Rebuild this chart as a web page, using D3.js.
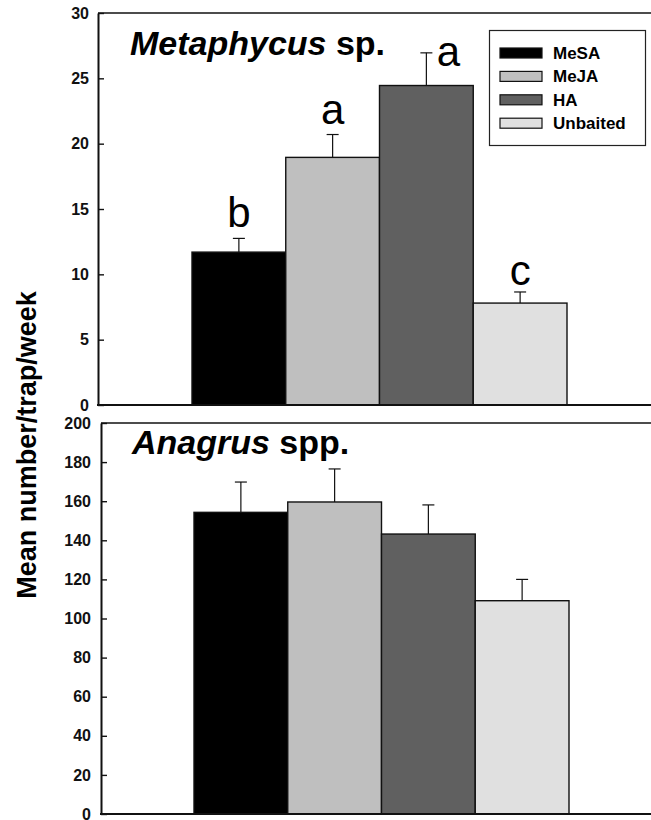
<!DOCTYPE html>
<html>
<head>
<meta charset="utf-8">
<script src="https://cdn.jsdelivr.net/npm/d3@7"></script>
<style>
  body { margin: 0; background: #fff; }
  text { font-family: "Liberation Sans", Arial, sans-serif; }
</style>
</head>
<body>
<script>
// treatments and colours
const treatments = ["MeSA", "MeJA", "HA", "Unbaited"];
const fills = ["#000000", "#bfbfbf", "#606060", "#e0e0e0"];

// Metaphycus sp. (top panel)
const metaMean = [11.7, 18.95, 24.45, 7.8];
const metaSE = [1.05, 1.75, 2.5, 0.85];
const metaLetters = ["b", "a", "a", "c"];
const metaTicks = [0, 5, 10, 15, 20, 25, 30];

// Anagrus spp. (bottom panel)
const anaMean = [154.3, 159.6, 143.2, 109.1];
const anaSE = [15.5, 16.9, 14.9, 10.9];
const anaTicks = [0, 20, 40, 60, 80, 100, 120, 140, 160, 180, 200];

const W = 651, H = 820;
const svg = d3.select("body").append("svg")
    .attr("width", W).attr("height", H);

function panel(opts) {
    const x = d3.scaleBand().domain(treatments)
        .range([opts.x0, opts.x1]).paddingInner(0).paddingOuter(0);
    const y = d3.scaleLinear().domain([0, opts.max]).range([opts.bottom, opts.top]);
    const g = svg.append("g");

    // frame: top line and base line run off the right edge
    g.append("line")
        .attr("x1", opts.left).attr("x2", W + 10)
        .attr("y1", y(opts.max)).attr("y2", y(opts.max))
        .attr("stroke", "#111").attr("stroke-width", 1.6);

    const bars = g.selectAll(".bar").data(opts.mean).enter();

    // error bars (upper only)
    bars.append("line")
        .attr("x1", (d, i) => x(treatments[i]) + x.bandwidth() / 2)
        .attr("x2", (d, i) => x(treatments[i]) + x.bandwidth() / 2)
        .attr("y1", d => y(d))
        .attr("y2", (d, i) => y(d + opts.se[i]))
        .attr("stroke", "#111").attr("stroke-width", 1.2);
    bars.append("line")
        .attr("x1", (d, i) => x(treatments[i]) + x.bandwidth() / 2 - 6)
        .attr("x2", (d, i) => x(treatments[i]) + x.bandwidth() / 2 + 6)
        .attr("y1", (d, i) => y(d + opts.se[i]))
        .attr("y2", (d, i) => y(d + opts.se[i]))
        .attr("stroke", "#111").attr("stroke-width", 1.2);

    bars.append("rect")
        .attr("x", (d, i) => x(treatments[i]))
        .attr("width", x.bandwidth())
        .attr("y", d => y(d))
        .attr("height", d => y(0) - y(d))
        .attr("fill", (d, i) => fills[i])
        .attr("stroke", "#111").attr("stroke-width", 1.4);

    // y axis, ticks pointing inward
    const ax = g.append("g")
        .attr("transform", `translate(${opts.left},0)`)
        .call(d3.axisLeft(y).tickValues(opts.ticks)
            .tickSizeInner(-6).tickSizeOuter(0).tickPadding(opts.pad));
    ax.select(".domain").attr("stroke", "#111").attr("stroke-width", 2);
    ax.selectAll(".tick line").attr("stroke", "#111").attr("stroke-width", 1.4);
    ax.selectAll(".tick text")
        .attr("font-family", "'Liberation Sans', Arial, sans-serif")
        .attr("font-size", 16).attr("font-weight", "bold").attr("fill", "#111");

    // base line
    g.append("line")
        .attr("x1", opts.left - 1).attr("x2", W + 10)
        .attr("y1", y(0)).attr("y2", y(0))
        .attr("stroke", "#111").attr("stroke-width", 2.2);

    // panel title
    const t = g.append("text")
        .attr("x", opts.titleX).attr("y", opts.titleY)
        .attr("font-size", 34).attr("font-weight", "bold").attr("fill", "#000");
    t.append("tspan").attr("font-style", "italic").text(opts.genus);
    t.append("tspan").text(" " + opts.suffix);

    return {x, y, g};
}

const metaPanel = panel({
    x0: 192, x1: 567, left: 98, top: 13, bottom: 405, max: 30,
    mean: metaMean, se: metaSE, ticks: metaTicks, pad: 9,
    genus: "Metaphycus", suffix: "sp.", titleX: 130, titleY: 55
});

// significance letters
const letterDx = [0, 0, 22, 0];
const letterGap = [11, 11, -13, 7];
metaPanel.g.selectAll(".letter").data(metaLetters).enter()
    .append("text")
    .attr("x", (d, i) => metaPanel.x(treatments[i]) + metaPanel.x.bandwidth() / 2 + letterDx[i])
    .attr("y", (d, i) => metaPanel.y(metaMean[i] + metaSE[i]) - letterGap[i])
    .attr("text-anchor", "middle")
    .attr("font-size", 42).attr("fill", "#000")
    .text(d => d);

const anaPanel = panel({
    x0: 194, x1: 569, left: 101, top: 423, bottom: 814, max: 200,
    mean: anaMean, se: anaSE, ticks: anaTicks, pad: 10,
    genus: "Anagrus", suffix: "spp.", titleX: 132, titleY: 454
});

// legend
const lg = svg.append("g");
lg.append("rect")
    .attr("x", 489.5).attr("y", 30.5).attr("width", 156).attr("height", 115)
    .attr("fill", "#fff").attr("stroke", "#222").attr("stroke-width", 1.2);
const rows = lg.selectAll(".row").data(treatments).enter().append("g")
    .attr("transform", (d, i) => `translate(500, ${53 + i * 23.4})`);
rows.append("rect")
    .attr("x", 0).attr("y", -5).attr("width", 42).attr("height", 10)
    .attr("fill", (d, i) => fills[i]).attr("stroke", "#111").attr("stroke-width", 1.2);
rows.append("text")
    .attr("x", 53).attr("y", 6)
    .attr("font-size", 17).attr("font-weight", "bold").attr("fill", "#000")
    .text(d => d);

// shared y-axis title
svg.append("text")
    .attr("transform", "translate(36, 445) rotate(-90)")
    .attr("text-anchor", "middle")
    .attr("font-size", 27).attr("font-weight", "bold").attr("fill", "#000")
    .text("Mean number/trap/week");
</script>
</body>
</html>
